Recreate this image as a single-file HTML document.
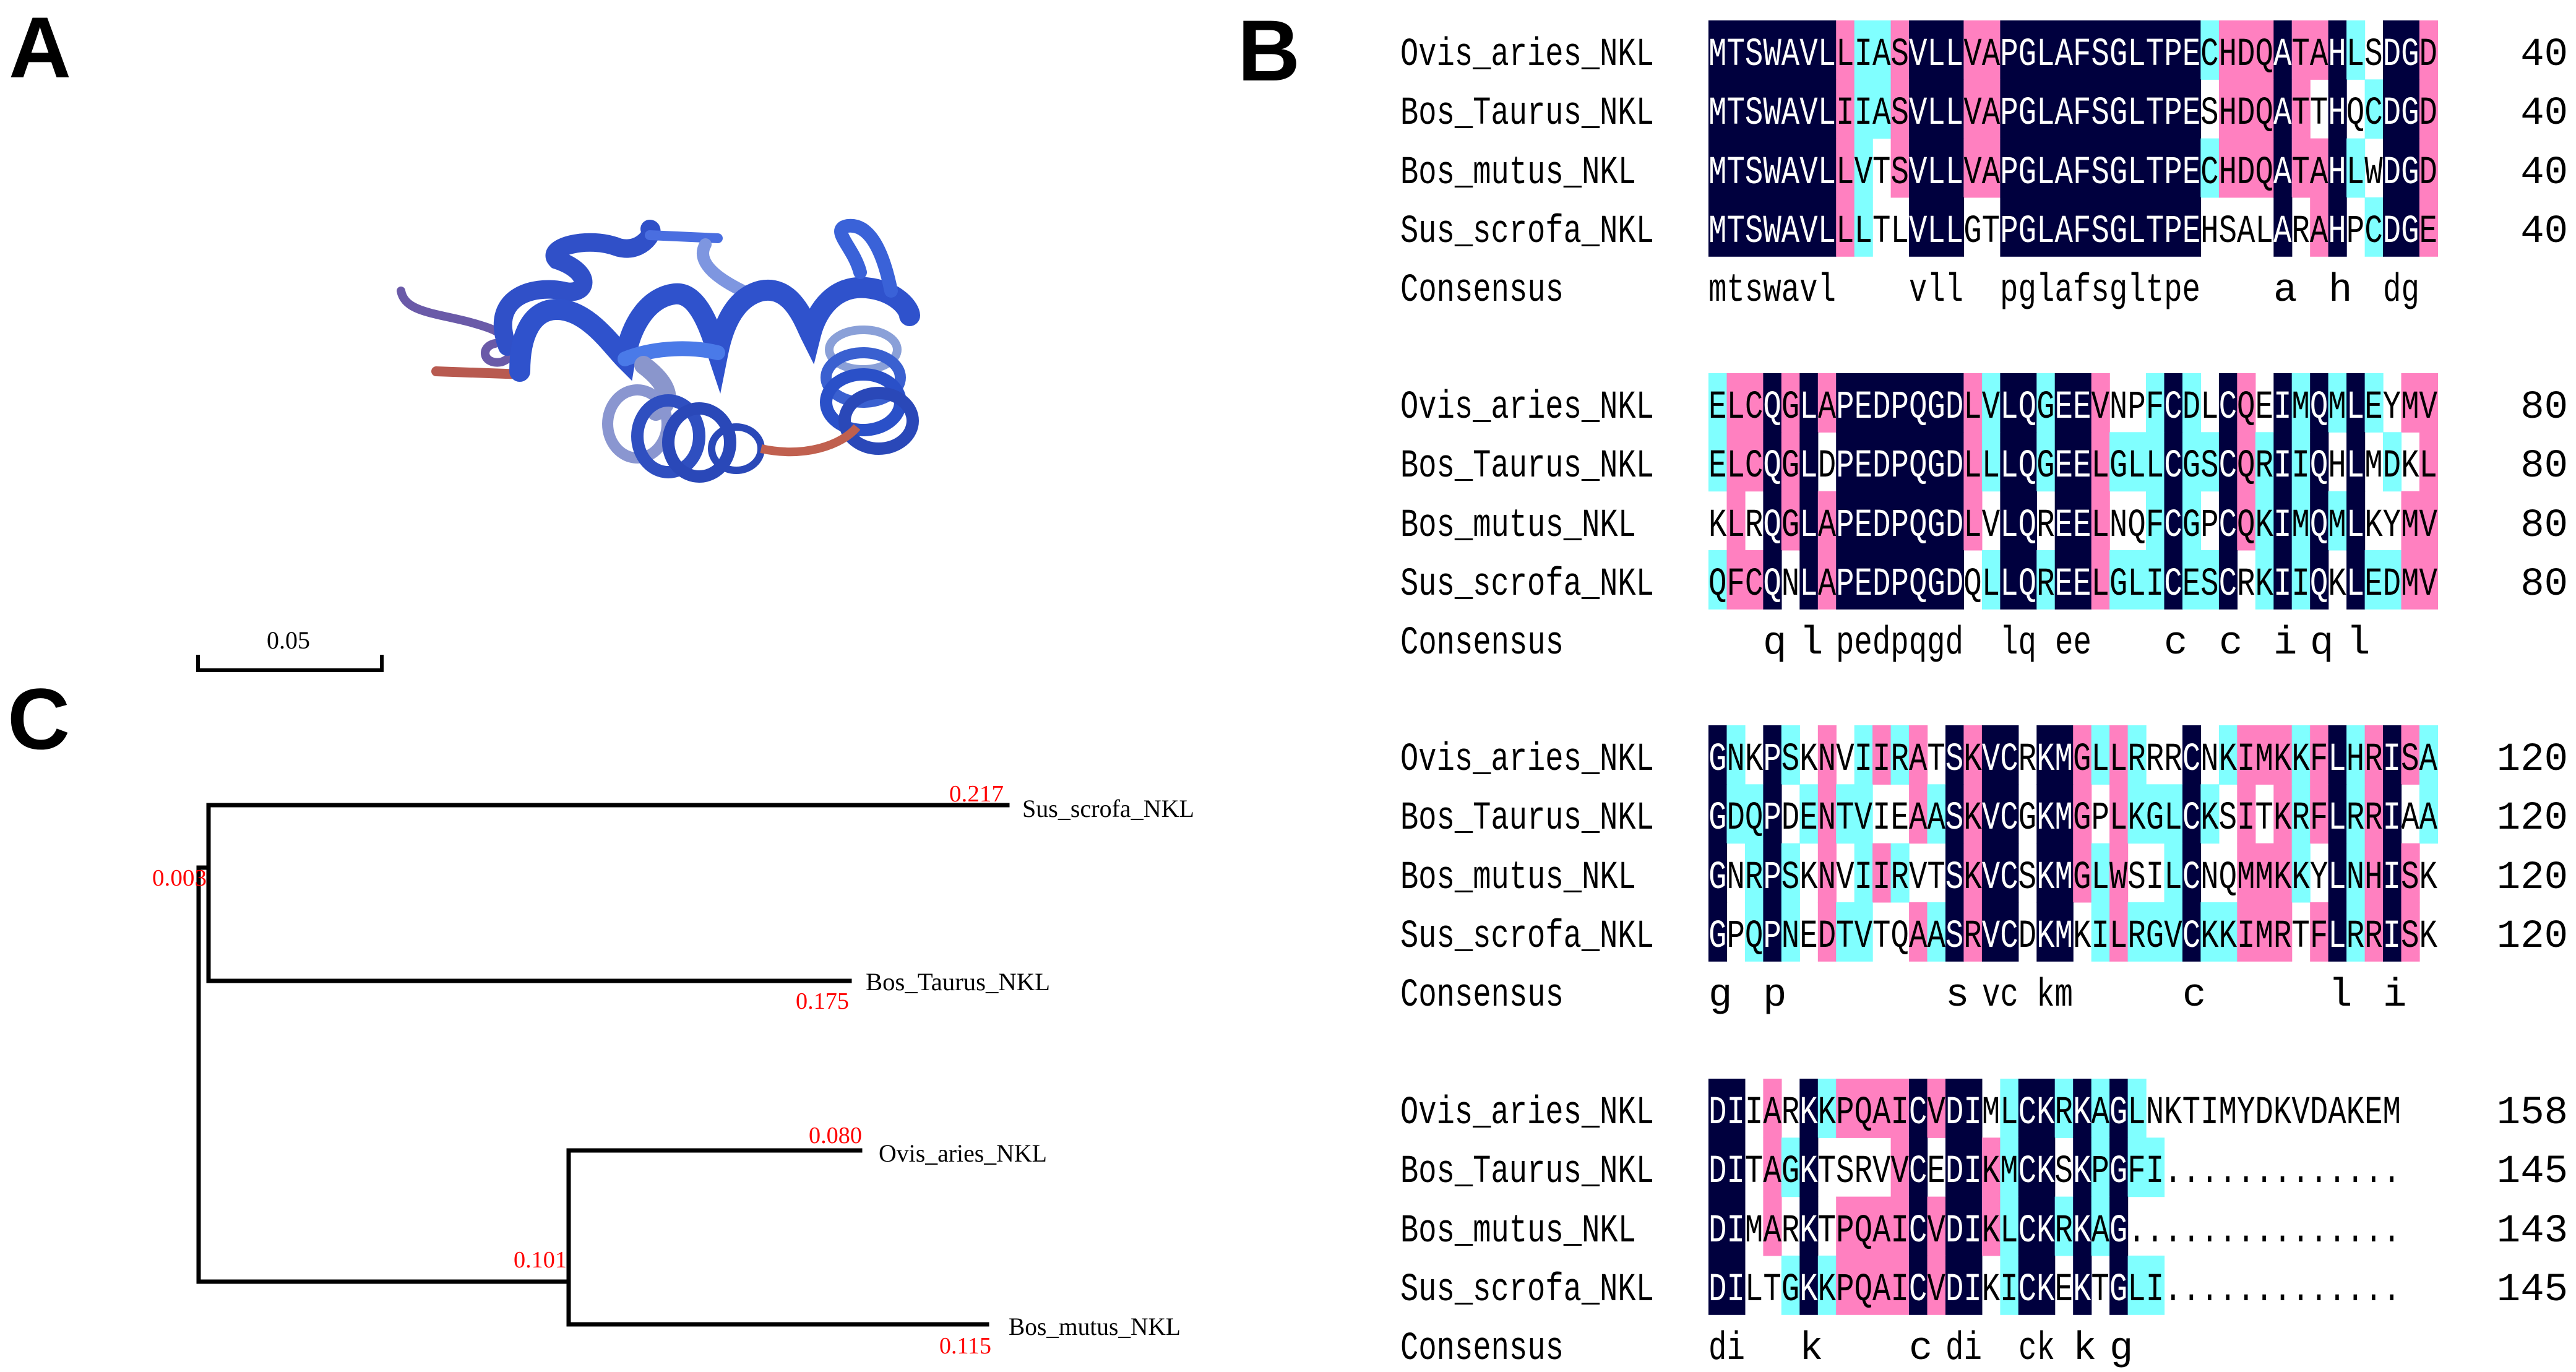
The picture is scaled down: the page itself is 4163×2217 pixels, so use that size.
<!DOCTYPE html>
<html><head><meta charset="utf-8"><style>
html,body{margin:0;padding:0;background:#fff;}
svg{display:block;}
.n{font-family:"Liberation Mono",monospace;font-size:64px;}
.t{font-family:"Liberation Serif",serif;font-size:40px;}
.r{font-family:"Liberation Serif",serif;font-size:38px;fill:#f00;}
.L{font-family:"Liberation Sans",sans-serif;font-weight:bold;font-size:140px;}
</style></head><body>
<svg id="s" width="4163" height="2217" viewBox="0 0 4163 2217" xmlns="http://www.w3.org/2000/svg">
<defs><clipPath id="navy"></clipPath></defs>
<rect width="4163" height="2217" fill="#fff"/>
<text class="L" x="14" y="125">A</text>
<text class="L" x="2000" y="130">B</text>
<text class="L" x="12" y="1210">C</text>

<!-- Protein ribbon -->
<g fill="none" stroke-linecap="round">
<path d="M648,470 C655,510 720,505 790,530 C830,545 840,575 810,585 C780,590 775,560 800,555" stroke="#6a5aa8" stroke-width="14"/>
<path d="M705,600 L845,605" stroke="#b85a50" stroke-width="16"/>
<path d="M820,560 C790,480 860,460 910,470 C950,480 960,440 900,420 C880,400 950,380 1000,400 C1040,410 1060,370 1050,370" stroke="#3050c8" stroke-width="30"/>
<path d="M1050,380 L1160,385" stroke="#4a6ee0" stroke-width="16"/>
<path d="M1140,395 C1120,430 1180,460 1200,470" stroke="#7e96e0" stroke-width="20"/>
<path d="M840,600 C840,540 860,500 900,500 C950,500 990,560 1010,580 C1020,520 1050,480 1090,475 C1130,470 1150,540 1160,570 C1170,520 1190,480 1230,470 C1280,460 1300,520 1310,540 C1320,500 1350,460 1400,465 C1450,470 1470,500 1470,510" stroke="#2f52cc" stroke-width="34"/>
<path d="M1010,580 C1060,560 1120,560 1160,570" stroke="#4a7ae8" stroke-width="24"/>
<path d="M1390,440 C1380,400 1340,370 1370,365 C1410,360 1430,420 1440,470" stroke="#3a62d8" stroke-width="22"/>
<path d="M1040,590 C1080,620 1090,650 1060,665" stroke="#8a96cc" stroke-width="30"/>
</g>
<g fill="none">
<ellipse cx="1030" cy="685" rx="48" ry="55" stroke="#8a96d0" stroke-width="18"/>
<ellipse cx="1080" cy="705" rx="50" ry="58" stroke="#2f4fc0" stroke-width="20"/>
<ellipse cx="1130" cy="715" rx="50" ry="55" stroke="#2a48b8" stroke-width="20"/>
<ellipse cx="1190" cy="725" rx="40" ry="35" stroke="#2a48b8" stroke-width="12"/>
<ellipse cx="1395" cy="565" rx="55" ry="32" stroke="#8aa0d8" stroke-width="14"/>
<ellipse cx="1395" cy="610" rx="60" ry="40" stroke="#3a60d0" stroke-width="18"/>
<ellipse cx="1395" cy="650" rx="60" ry="45" stroke="#2a50c8" stroke-width="20"/>
<ellipse cx="1420" cy="680" rx="55" ry="45" stroke="#2a48b8" stroke-width="20"/>
<path d="M1230,725 C1300,740 1360,720 1385,690" stroke="#c0604f" stroke-width="14"/>
</g>

<!-- Scale bar -->
<text class="t" x="466" y="1048" text-anchor="middle">0.05</text>
<path d="M320,1058 V1083 H617 V1058" fill="none" stroke="#000" stroke-width="6"/>

<!-- Tree -->
<g stroke="#000" stroke-width="7" fill="none" stroke-linecap="square">
<path d="M321,1402 V2071"/>
<path d="M321,1402 H337"/>
<path d="M337,1301 V1585"/>
<path d="M337,1301 H1628"/>
<path d="M337,1585 H1373"/>
<path d="M321,2071 H919"/>
<path d="M919,1859 V2140"/>
<path d="M919,1859 H1390"/>
<path d="M919,2140 H1595"/>
</g>
<text class="t" x="1652" y="1320" textLength="278" lengthAdjust="spacingAndGlyphs">Sus_scrofa_NKL</text>
<text class="t" x="1399" y="1600" textLength="298" lengthAdjust="spacingAndGlyphs">Bos_Taurus_NKL</text>
<text class="t" x="1420" y="1877" textLength="272" lengthAdjust="spacingAndGlyphs">Ovis_aries_NKL</text>
<text class="t" x="1630" y="2157" textLength="278" lengthAdjust="spacingAndGlyphs">Bos_mutus_NKL</text>
<text class="r" x="1534" y="1295" textLength="88" lengthAdjust="spacingAndGlyphs">0.217</text>
<text class="r" x="246" y="1431" textLength="88" lengthAdjust="spacingAndGlyphs">0.003</text>
<text class="r" x="1286" y="1630" textLength="86" lengthAdjust="spacingAndGlyphs">0.175</text>
<text class="r" x="1307" y="1847" textLength="86" lengthAdjust="spacingAndGlyphs">0.080</text>
<text class="r" x="830" y="2048" textLength="86" lengthAdjust="spacingAndGlyphs">0.101</text>
<text class="r" x="1518" y="2187" textLength="84" lengthAdjust="spacingAndGlyphs">0.115</text>

<g id="bg"></g>

<g id="names" class="n" fill="#000">
<text x="2263" y="105" textLength="410" lengthAdjust="spacingAndGlyphs">Ovis_aries_NKL</text>
<text x="2263" y="200" textLength="410" lengthAdjust="spacingAndGlyphs">Bos_Taurus_NKL</text>
<text x="2263" y="296" textLength="381" lengthAdjust="spacingAndGlyphs">Bos_mutus_NKL</text>
<text x="2263" y="391" textLength="410" lengthAdjust="spacingAndGlyphs">Sus_scrofa_NKL</text>
<text x="2263" y="486" textLength="264" lengthAdjust="spacingAndGlyphs">Consensus</text>
<text x="2263" y="675" textLength="410" lengthAdjust="spacingAndGlyphs">Ovis_aries_NKL</text>
<text x="2263" y="770" textLength="410" lengthAdjust="spacingAndGlyphs">Bos_Taurus_NKL</text>
<text x="2263" y="866" textLength="381" lengthAdjust="spacingAndGlyphs">Bos_mutus_NKL</text>
<text x="2263" y="961" textLength="410" lengthAdjust="spacingAndGlyphs">Sus_scrofa_NKL</text>
<text x="2263" y="1056" textLength="264" lengthAdjust="spacingAndGlyphs">Consensus</text>
<text x="2263" y="1244" textLength="410" lengthAdjust="spacingAndGlyphs">Ovis_aries_NKL</text>
<text x="2263" y="1339" textLength="410" lengthAdjust="spacingAndGlyphs">Bos_Taurus_NKL</text>
<text x="2263" y="1435" textLength="381" lengthAdjust="spacingAndGlyphs">Bos_mutus_NKL</text>
<text x="2263" y="1530" textLength="410" lengthAdjust="spacingAndGlyphs">Sus_scrofa_NKL</text>
<text x="2263" y="1625" textLength="264" lengthAdjust="spacingAndGlyphs">Consensus</text>
<text x="2263" y="1815" textLength="410" lengthAdjust="spacingAndGlyphs">Ovis_aries_NKL</text>
<text x="2263" y="1910" textLength="410" lengthAdjust="spacingAndGlyphs">Bos_Taurus_NKL</text>
<text x="2263" y="2006" textLength="381" lengthAdjust="spacingAndGlyphs">Bos_mutus_NKL</text>
<text x="2263" y="2101" textLength="410" lengthAdjust="spacingAndGlyphs">Sus_scrofa_NKL</text>
<text x="2263" y="2196" textLength="264" lengthAdjust="spacingAndGlyphs">Consensus</text>
</g>
<g class="n" fill="#000" text-anchor="end">
<text x="4150" y="105">40</text><text x="4150" y="200">40</text><text x="4150" y="296">40</text><text x="4150" y="391">40</text>
<text x="4150" y="675">80</text><text x="4150" y="770">80</text><text x="4150" y="866">80</text><text x="4150" y="961">80</text>
<text x="4150" y="1244">120</text><text x="4150" y="1339">120</text><text x="4150" y="1435">120</text><text x="4150" y="1530">120</text>
<text x="4150" y="1815">158</text><text x="4150" y="1910">145</text><text x="4150" y="2006">143</text><text x="4150" y="2101">145</text>
</g>

<!-- Consensus lines -->
<g class="n" fill="#000">
<text x="2761" y="486" textLength="206" lengthAdjust="spacingAndGlyphs">mtswavl</text>
<text x="3085" y="486" textLength="88" lengthAdjust="spacingAndGlyphs">vll</text>
<text x="3232" y="486" textLength="324" lengthAdjust="spacingAndGlyphs">pglafsgltpe</text>
<text x="3674" y="486">a</text>
<text x="3763" y="486">h</text>
<text x="3851" y="486" textLength="59" lengthAdjust="spacingAndGlyphs">dg</text>

<text x="2849" y="1056">q</text>
<text x="2908" y="1056">l</text>
<text x="2967" y="1056" textLength="206" lengthAdjust="spacingAndGlyphs">pedpqgd</text>
<text x="3232" y="1056" textLength="59" lengthAdjust="spacingAndGlyphs">lq</text>
<text x="3321" y="1056" textLength="59" lengthAdjust="spacingAndGlyphs">ee</text>
<text x="3497" y="1056">c</text>
<text x="3586" y="1056">c</text>
<text x="3674" y="1056">i</text>
<text x="3733" y="1056">q</text>
<text x="3792" y="1056">l</text>

<text x="2761" y="1625">g</text>
<text x="2849" y="1625">p</text>
<text x="3144" y="1625">s</text>
<text x="3203" y="1625" textLength="59" lengthAdjust="spacingAndGlyphs">vc</text>
<text x="3291" y="1625" textLength="59" lengthAdjust="spacingAndGlyphs">km</text>
<text x="3527" y="1625">c</text>
<text x="3763" y="1625">l</text>
<text x="3851" y="1625">i</text>

<text x="2761" y="2196" textLength="59" lengthAdjust="spacingAndGlyphs">di</text>
<text x="2908" y="2196">k</text>
<text x="3085" y="2196">c</text>
<text x="3144" y="2196" textLength="59" lengthAdjust="spacingAndGlyphs">di</text>
<text x="3262" y="2196" textLength="59" lengthAdjust="spacingAndGlyphs">ck</text>
<text x="3350" y="2196">k</text>
<text x="3409" y="2196">g</text>
</g>

<!-- Sequence rows, black layer -->
<g class="n" fill="#000">
<text x="2761" y="105" textLength="1178" lengthAdjust="spacingAndGlyphs">MTSWAVLLIASVLLVAPGLAFSGLTPECHDQATAHLSDGD</text>
<text x="2761" y="200" textLength="1178" lengthAdjust="spacingAndGlyphs">MTSWAVLIIASVLLVAPGLAFSGLTPESHDQATTHQCDGD</text>
<text x="2761" y="296" textLength="1178" lengthAdjust="spacingAndGlyphs">MTSWAVLLVTSVLLVAPGLAFSGLTPECHDQATAHLWDGD</text>
<text x="2761" y="391" textLength="1178" lengthAdjust="spacingAndGlyphs">MTSWAVLLLTLVLLGTPGLAFSGLTPEHSALARAHPCDGE</text>
<text x="2761" y="675" textLength="1178" lengthAdjust="spacingAndGlyphs">ELCQGLAPEDPQGDLVLQGEEVNPFCDLCQEIMQMLEYMV</text>
<text x="2761" y="770" textLength="1178" lengthAdjust="spacingAndGlyphs">ELCQGLDPEDPQGDLLLQGEELGLLCGSCQRIIQHLMDKL</text>
<text x="2761" y="866" textLength="1178" lengthAdjust="spacingAndGlyphs">KLRQGLAPEDPQGDLVLQREELNQFCGPCQKIMQMLKYMV</text>
<text x="2761" y="961" textLength="1178" lengthAdjust="spacingAndGlyphs">QFCQNLAPEDPQGDQLLQREELGLICESCRKIIQKLEDMV</text>
<text x="2761" y="1244" textLength="1178" lengthAdjust="spacingAndGlyphs">GNKPSKNVIIRATSKVCRKMGLLRRRCNKIMKKFLHRISA</text>
<text x="2761" y="1339" textLength="1178" lengthAdjust="spacingAndGlyphs">GDQPDENTVIEAASKVCGKMGPLKGLCKSITKRFLRRIAA</text>
<text x="2761" y="1435" textLength="1178" lengthAdjust="spacingAndGlyphs">GNRPSKNVIIRVTSKVCSKMGLWSILCNQMMKKYLNHISK</text>
<text x="2761" y="1530" textLength="1178" lengthAdjust="spacingAndGlyphs">GPQPNEDTVTQAASRVCDKMKILRGVCKKIMRTFLRRISK</text>
<text x="2761" y="1815" textLength="1119" lengthAdjust="spacingAndGlyphs">DIIARKKPQAICVDIMLCKRKAGLNKTIMYDKVDAKEM</text>
<text x="2761" y="1910" textLength="1119" lengthAdjust="spacingAndGlyphs">DITAGKTSRVVCEDIKMCKSKPGFI.............</text>
<text x="2761" y="2006" textLength="1119" lengthAdjust="spacingAndGlyphs">DIMARKTPQAICVDIKLCKRKAG...............</text>
<text x="2761" y="2101" textLength="1119" lengthAdjust="spacingAndGlyphs">DILTGKKPQAICVDIKICKEKTGLI.............</text>
</g>
<!-- white layer on navy -->
<g class="n" fill="#fff" clip-path="url(#navy)">
<text x="2761" y="105" textLength="1178" lengthAdjust="spacingAndGlyphs">MTSWAVLLIASVLLVAPGLAFSGLTPECHDQATAHLSDGD</text>
<text x="2761" y="200" textLength="1178" lengthAdjust="spacingAndGlyphs">MTSWAVLIIASVLLVAPGLAFSGLTPESHDQATTHQCDGD</text>
<text x="2761" y="296" textLength="1178" lengthAdjust="spacingAndGlyphs">MTSWAVLLVTSVLLVAPGLAFSGLTPECHDQATAHLWDGD</text>
<text x="2761" y="391" textLength="1178" lengthAdjust="spacingAndGlyphs">MTSWAVLLLTLVLLGTPGLAFSGLTPEHSALARAHPCDGE</text>
<text x="2761" y="675" textLength="1178" lengthAdjust="spacingAndGlyphs">ELCQGLAPEDPQGDLVLQGEEVNPFCDLCQEIMQMLEYMV</text>
<text x="2761" y="770" textLength="1178" lengthAdjust="spacingAndGlyphs">ELCQGLDPEDPQGDLLLQGEELGLLCGSCQRIIQHLMDKL</text>
<text x="2761" y="866" textLength="1178" lengthAdjust="spacingAndGlyphs">KLRQGLAPEDPQGDLVLQREELNQFCGPCQKIMQMLKYMV</text>
<text x="2761" y="961" textLength="1178" lengthAdjust="spacingAndGlyphs">QFCQNLAPEDPQGDQLLQREELGLICESCRKIIQKLEDMV</text>
<text x="2761" y="1244" textLength="1178" lengthAdjust="spacingAndGlyphs">GNKPSKNVIIRATSKVCRKMGLLRRRCNKIMKKFLHRISA</text>
<text x="2761" y="1339" textLength="1178" lengthAdjust="spacingAndGlyphs">GDQPDENTVIEAASKVCGKMGPLKGLCKSITKRFLRRIAA</text>
<text x="2761" y="1435" textLength="1178" lengthAdjust="spacingAndGlyphs">GNRPSKNVIIRVTSKVCSKMGLWSILCNQMMKKYLNHISK</text>
<text x="2761" y="1530" textLength="1178" lengthAdjust="spacingAndGlyphs">GPQPNEDTVTQAASRVCDKMKILRGVCKKIMRTFLRRISK</text>
<text x="2761" y="1815" textLength="1119" lengthAdjust="spacingAndGlyphs">DIIARKKPQAICVDIMLCKRKAGLNKTIMYDKVDAKEM</text>
<text x="2761" y="1910" textLength="1119" lengthAdjust="spacingAndGlyphs">DITAGKTSRVVCEDIKMCKSKPGFI.............</text>
<text x="2761" y="2006" textLength="1119" lengthAdjust="spacingAndGlyphs">DIMARKTPQAICVDIKLCKRKAG...............</text>
<text x="2761" y="2101" textLength="1119" lengthAdjust="spacingAndGlyphs">DILTGKKPQAICVDIKICKEKTGLI.............</text>
</g>
</svg>
<script>
(function(){
var NS="http://www.w3.org/2000/svg";
var blocks=[
 [33,["nnnnnnnpccpnnnppnnnnnnnnnnncpppnppncwnnp","nnnnnnnpccpnnnppnnnnnnnnnnnwpppnpwnwcnnp","nnnnnnnpcwpnnnppnnnnnnnnnnncpppnppncwnnp","nnnnnnnpcwwnnnwwnnnnnnnnnnnwwwwnwpnwcnnp"]],
 [603,["cppnpnpnnnnnnnpcnncnnpwwcncwnpwncncncwpp","cppnpnwnnnnnnnpcnncnnpcccnccnpcncnwnwcwp","wpwnpnpnnnnnnnpwnnwnnpwwcncwnpcncncnwwpp","cppnwnpnnnnnnnwcnncnnpcccnccnwcncnwnccpp"]],
 [1172,["ncwncwpwcpcpwnpnnwnnpcpcwwnwcpppcpncpnpc","nccnwcpccwwpcnpnnwnnpwpcccncwpwpcpncpnwc","nwcncwpwcpcwwnpnnwnnpcpwwcnwwpppcwncpnpw","nwcncwpccwwpcnpnnwnnwcpcccnccpppwpncpnpw"]],
 [1743,["nnwpwncppppnpnnwcnncncnc","nnwpcnwwwwpnwnnpcnnwncncc","nnwpwnwppppnpnnpcnncncn","nnwwcncppppnpnnwcnnwnwncc"]]
];
var col={n:"#00003e",p:"#ff80c0",c:"#80ffff"};
var bg=document.getElementById("bg"),clip=document.getElementById("navy");
var X0=2761,W=29.46,H=95.3;
blocks.forEach(function(b){
 b[1].forEach(function(s,ri){
  for(var i=0;i<s.length;){
   var ch=s[i],j=i;while(j<s.length&&s[j]==ch)j++;
   if(ch!="w"){
    var r=document.createElementNS(NS,"rect");
    r.setAttribute("x",(X0+i*W).toFixed(1));r.setAttribute("y",(b[0]+ri*H).toFixed(1));
    r.setAttribute("width",((j-i)*W+0.6).toFixed(1));r.setAttribute("height",(H+0.6).toFixed(1));
    r.setAttribute("fill",col[ch]);bg.appendChild(r);
    if(ch=="n")clip.appendChild(r.cloneNode());
   }
   i=j;
  }
 });
});
})();
</script>
</body></html>
